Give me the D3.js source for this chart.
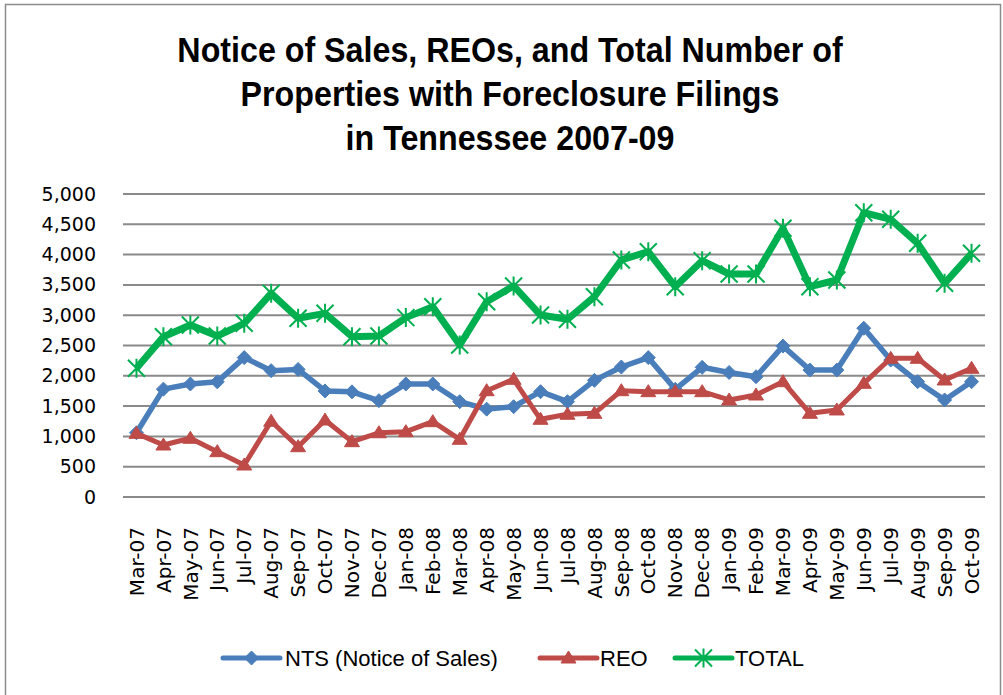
<!DOCTYPE html>
<html>
<head>
<meta charset="utf-8">
<script src="https://cdn.jsdelivr.net/npm/d3@7"></script>
<style>
  html, body { margin: 0; padding: 0; background: #fff; }
  svg { display: block; }
</style>
</head>
<body>
<div id="chart"></div>
<script>
const months = ["Mar-07","Apr-07","May-07","Jun-07","Jul-07","Aug-07","Sep-07","Oct-07","Nov-07","Dec-07",
  "Jan-08","Feb-08","Mar-08","Apr-08","May-08","Jun-08","Jul-08","Aug-08","Sep-08","Oct-08","Nov-08","Dec-08",
  "Jan-09","Feb-09","Mar-09","Apr-09","May-09","Jun-09","Jul-09","Aug-09","Sep-09","Oct-09"];

const nts = [1060, 1780, 1865, 1900, 2300, 2085, 2105, 1750, 1735, 1590,
  1865, 1865, 1573, 1450, 1490, 1738, 1573, 1925, 2145, 2300, 1777, 2140,
  2055, 1985, 2490, 2095, 2095, 2785, 2260, 1903, 1601, 1903];

const reo = [1050, 858, 969, 748, 528, 1250, 830, 1270, 913, 1060,
  1078, 1243, 952, 1754, 1942, 1282, 1365, 1381, 1754, 1738, 1738, 1738,
  1601, 1683, 1903, 1381, 1436, 1876, 2289, 2289, 1931, 2124];

const total = [2124, 2645, 2838, 2657, 2866, 3361, 2949, 3031, 2645, 2657,
  2960, 3140, 2508, 3223, 3482, 3003, 2932, 3305, 3911, 4048, 3470, 3899,
  3680, 3680, 4434, 3470, 3581, 4691, 4582, 4186, 3526, 4021];

const yTicks = [0, 500, 1000, 1500, 2000, 2500, 3000, 3500, 4000, 4500, 5000];

const titleLines = ["Notice of Sales, REOs, and Total Number of",
  "Properties with Foreclosure Filings",
  "in Tennessee 2007-09"];

const seriesNames = ["NTS (Notice of Sales)", "REO", "TOTAL"];

const width = 1003, height = 695;
const margin = {top: 194, right: 18, bottom: 198, left: 123};

// marker shapes
const diamond = "M0,-7L7,0L0,7L-7,0Z";
const triangle = "M0,-7L7.5,5L-7.5,5Z";
const asterisk = "M0,-9.5V9.5M-8.5,-8.5L8.5,8.5M-8.5,8.5L8.5,-8.5";

const series = [
  {name: seriesNames[0], values: nts, color: "#4a7ebb", width: 5.5, marker: diamond, fill: true},
  {name: seriesNames[1], values: reo, color: "#be4b48", width: 5, marker: triangle, fill: true},
  {name: seriesNames[2], values: total, color: "#00b050", width: 7, marker: asterisk, fill: false}
];

const svg = d3.select("#chart").append("svg")
  .attr("width", width).attr("height", height);

// chart border
svg.append("rect")
  .attr("x", 5.5).attr("y", 4.5).attr("width", 995).attr("height", 700)
  .attr("fill", "none").attr("stroke", "#8c8c8c").attr("stroke-width", 1.5);

// title (condensed to mimic the narrow bold face)
svg.append("g")
  .attr("transform", "translate(510,0) scale(0.895,1)")
  .selectAll("text")
  .data(titleLines).join("text")
  .attr("x", 0).attr("y", (d, i) => 62 + i * 44)
  .attr("text-anchor", "middle")
  .style("font-family", "'Liberation Sans', sans-serif")
  .style("font-weight", "bold").style("font-size", "36px")
  .text(d => d);

const x = d3.scaleBand().domain(months).range([margin.left, width - margin.right]);
const y = d3.scaleLinear().domain([0, 5000]).range([height - margin.bottom, margin.top]);

// gridlines
svg.append("g").selectAll("line")
  .data(yTicks).join("line")
  .attr("x1", margin.left).attr("x2", width - margin.right)
  .attr("y1", d => y(d)).attr("y2", d => y(d))
  .attr("stroke", "#8a8a8a").attr("stroke-width", 2);

// y axis labels
const yAxis = svg.append("g")
  .attr("transform", `translate(${margin.left - 27},0)`)
  .call(d3.axisLeft(y).tickValues(yTicks).tickSize(0).tickPadding(0).tickFormat(d3.format(",")));
yAxis.select(".domain").remove();
yAxis.selectAll("text")
  .style("font-family", "'DejaVu Sans', sans-serif").style("font-size", "19px").attr("fill", "#000");

// x axis labels
const xAxis = svg.append("g")
  .attr("transform", `translate(0,${height - margin.bottom})`)
  .call(d3.axisBottom(x).tickSize(0).tickPadding(0));
xAxis.select(".domain").remove();
xAxis.selectAll("text")
  .style("font-family", "'DejaVu Sans', sans-serif").style("font-size", "20px").attr("fill", "#000")
  .attr("text-anchor", "end")
  .attr("transform", "rotate(-90)")
  .attr("x", -30).attr("y", 0).attr("dy", "0.36em");

const cx = i => x(months[i]) + x.bandwidth() / 2;

// lines and markers
series.forEach(s => {
  const line = d3.line().x((v, i) => cx(i)).y(v => y(v));
  svg.append("path")
    .datum(s.values)
    .attr("fill", "none").attr("stroke", s.color)
    .attr("stroke-width", s.width).attr("stroke-linejoin", "round")
    .attr("d", line);
  svg.append("g").selectAll("path")
    .data(s.values).join("path")
    .attr("transform", (v, i) => `translate(${cx(i)},${y(v)})`)
    .attr("d", s.marker)
    .attr("fill", s.fill ? s.color : "none")
    .attr("stroke", s.color)
    .attr("stroke-width", s.fill ? 1 : 2);
});

// legend
const legendItems = [
  {x: 223, textX: 285},
  {x: 540, textX: 600},
  {x: 675, textX: 735}
];
const legend = svg.append("g").attr("transform", "translate(0,658)");
series.forEach((s, i) => {
  const it = legendItems[i];
  const g = legend.append("g");
  g.append("line")
    .attr("x1", it.x).attr("x2", it.x + 57).attr("y1", 0).attr("y2", 0)
    .attr("stroke", s.color).attr("stroke-width", 5).attr("stroke-linecap", "round");
  g.append("path")
    .attr("transform", `translate(${it.x + 28.5},0)`)
    .attr("d", s.marker)
    .attr("fill", s.fill ? s.color : "none")
    .attr("stroke", s.color).attr("stroke-width", s.fill ? 1 : 2);
  g.append("text")
    .attr("x", it.textX).attr("y", 0).attr("dy", "0.36em")
    .style("font-family", "'Liberation Sans', sans-serif").style("font-size", "22px")
    .text(s.name);
});
</script>
</body>
</html>
